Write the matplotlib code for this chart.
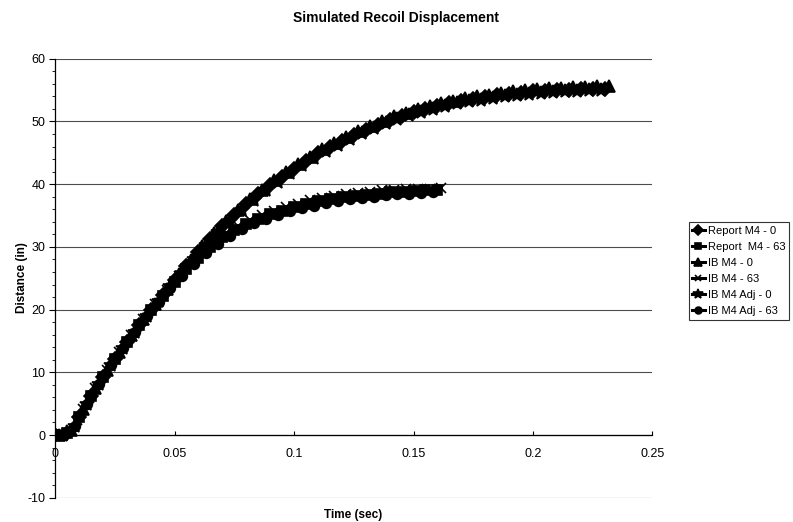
import numpy as np
import matplotlib
matplotlib.use('Agg')
import matplotlib.pyplot as plt
from matplotlib.ticker import MultipleLocator

plt.rcParams['font.family'] = ['Liberation Sans', 'DejaVu Sans']
plt.rcParams['axes.unicode_minus'] = False

# sample step of every run (s) and first sample time of each model
dt = 0.005
t0_report = 0.0
t0_ib = 0.0017
t0_adj = 0.0033

# recoil displacement (in), 0 deg elevation
report_0 = [0.0, 0.3, 2.9, 6.3, 9.3, 12.1, 14.9, 17.5, 20.0, 22.4, 24.8, 27.0,
            29.2, 31.3, 33.3, 35.1, 36.8, 38.4, 39.8, 41.2, 42.5, 43.7, 44.9,
            45.9, 46.9, 47.8, 48.7, 49.5, 50.2, 50.9, 51.5, 52.0, 52.5, 52.9,
            53.3, 53.6, 53.9, 54.2, 54.4, 54.6, 54.8, 54.9, 55.0, 55.1, 55.2,
            55.2, 55.2]
ib_0 = [0.0, 0.8, 4.2, 7.5, 10.3, 13.2, 15.9, 18.5, 20.9, 23.3, 25.7, 27.9,
        30.1, 32.2, 34.1, 35.9, 37.6, 39.1, 40.6, 42.0, 43.2, 44.4, 45.6, 46.6,
        47.6, 48.5, 49.3, 50.1, 50.8, 51.4, 52.0, 52.5, 53.0, 53.3, 53.7, 54.0,
        54.3, 54.6, 54.8, 55.0, 55.2, 55.3, 55.4, 55.5, 55.5, 55.6, 55.6]
ib_adj_0 = [0.0, 1.5, 5.0, 8.2, 11.1, 13.8, 16.5, 19.0, 21.4, 23.7, 25.9, 28.1,
            30.3, 32.3, 34.2, 35.9, 37.5, 39.0, 40.4, 41.8, 43.0, 44.2, 45.3,
            46.3, 47.2, 48.1, 48.9, 49.7, 50.4, 51.0, 51.5, 52.0, 52.5, 52.9,
            53.2, 53.5, 53.8, 54.0, 54.2, 54.4, 54.6, 54.7, 54.8, 54.9, 55.0,
            55.0]

# recoil displacement (in), 63 deg elevation
report_63 = [0.0, 0.3, 2.9, 6.3, 9.3, 12.1, 14.9, 17.5, 20.0, 22.2, 24.4, 26.4,
             28.3, 30.0, 31.5, 32.7, 33.7, 34.5, 35.2, 35.8, 36.4, 36.9, 37.3,
             37.6, 37.9, 38.1, 38.3, 38.5, 38.7, 38.8, 38.9, 39.0, 39.1]
ib_63 = [0.0, 0.8, 4.2, 7.5, 10.3, 13.2, 15.9, 18.5, 20.9, 23.2, 25.4, 27.3,
         29.2, 30.8, 32.2, 33.3, 34.3, 35.1, 35.8, 36.4, 36.9, 37.4, 37.8, 38.1,
         38.4, 38.6, 38.8, 39.0, 39.1, 39.2, 39.3, 39.3, 39.4]
ib_adj_63 = [0.0, 1.5, 5.0, 8.2, 11.1, 13.8, 16.5, 19.0, 21.2, 23.4, 25.4, 27.3,
             29.0, 30.5, 31.8, 32.9, 33.8, 34.5, 35.1, 35.7, 36.2, 36.6, 37.0,
             37.3, 37.6, 37.8, 38.0, 38.2, 38.4, 38.5, 38.6, 38.7]

labels = ['Report M4 - 0', 'Report  M4 - 63', 'IB M4 - 0', 'IB M4 - 63',
          'IB M4 Adj - 0', 'IB M4 Adj - 63']
x_ticks = [0, 0.05, 0.1, 0.15, 0.2, 0.25]
x_tick_labels = ['0', '0.05', '0.1', '0.15', '0.2', '0.25']
y_ticks = [-10, 0, 10, 20, 30, 40, 50, 60]

runs = [
  (t0_report, report_0, 'D', 7),
  (t0_report, report_63, 's', 7),
  (t0_ib, ib_0, '^', 8),
  (t0_ib, ib_63, 'x', 7),
  (t0_adj, ib_adj_0, '*', 10),
  (t0_adj, ib_adj_63, 'o', 7),
]

fig = plt.figure(figsize=(7.93, 5.22), dpi=100)
ax = fig.add_axes([0.0694, 0.0465, 0.7534, 0.8409])

# horizontal gridlines
for yv in y_ticks:
  ax.axhline(yv, color='0.3', lw=0.8, zorder=1)

for (t0, d, m, ms), lab in zip(runs, labels):
  t = t0 + dt * np.arange(len(d))
  ax.plot(t, d, color='black', lw=2.2, marker=m, ms=ms, mfc='black',
          mec='black', mew=1.2, label=lab, zorder=3)

ax.set_xlim(0, 0.25)
ax.set_ylim(-10, 60)
ax.set_xticks(x_ticks)
ax.set_xticklabels(x_tick_labels)
ax.set_yticks(y_ticks)
ax.yaxis.set_minor_locator(MultipleLocator(2))

ax.spines['top'].set_visible(False)
ax.spines['right'].set_visible(False)
ax.spines['bottom'].set_position(('data', 0))
ax.spines['left'].set_color('black')
ax.spines['left'].set_linewidth(0.9)
ax.spines['bottom'].set_linewidth(0.9)

ax.tick_params(axis='y', which='major', direction='out', length=4, width=0.8,
               labelsize=9, pad=3)
ax.tick_params(axis='y', which='minor', direction='out', length=2, width=0.6)
ax.tick_params(axis='x', which='major', direction='in', length=3, width=0.8,
               labelsize=9, pad=9)

fig.text(396 / 793, 1 - 18 / 522, 'Simulated Recoil Displacement',
         ha='center', va='center', fontsize=10, fontweight='bold')
fig.text(22 / 793, 1 - 278 / 522, 'Distance (in)', rotation=90,
         ha='center', va='center', fontsize=8.5, fontweight='bold')
fig.text(353 / 793, 1 - 515 / 522, 'Time (sec)',
         ha='center', va='center', fontsize=8.5, fontweight='bold')

leg = fig.legend(loc='center left', bbox_to_anchor=(689 / 793, 1 - 271 / 522),
                 fontsize=8, frameon=True, fancybox=False, handlelength=1.1,
                 handletextpad=0.35, borderpad=0.3, labelspacing=0.55,
                 borderaxespad=0, markerscale=0.7)
leg.get_frame().set_edgecolor('black')
leg.get_frame().set_linewidth(0.8)

fig.savefig('out.png', dpi=100)
